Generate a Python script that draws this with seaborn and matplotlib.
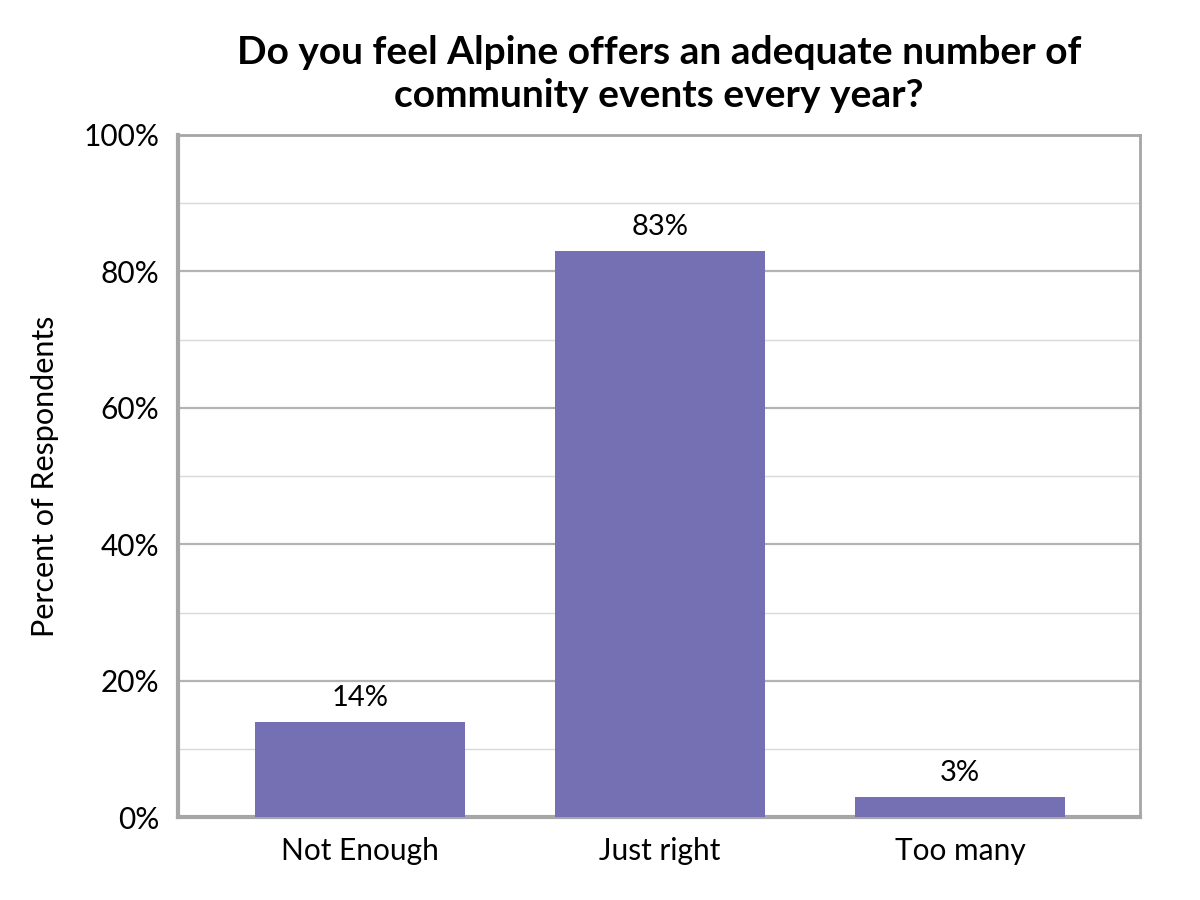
import matplotlib
matplotlib.use("Agg")
import matplotlib.pyplot as plt
import seaborn as sns
import pandas as pd
from matplotlib.ticker import MultipleLocator, PercentFormatter

categories = ["Not Enough", "Just right", "Too many"]
percents = [14, 83, 3]
title = "Do you feel Alpine offers an adequate number of\ncommunity events every year?"
ylabel = "Percent of Respondents"

BAR_COLOR = "#7570b3"
SPINE_COLOR = "#a6a6a6"

sns.set_style("white")
plt.rcParams["font.family"] = ["Lato", "DejaVu Sans"]
plt.rcParams["text.color"] = "black"
plt.rcParams["xtick.color"] = "black"
plt.rcParams["ytick.color"] = "black"
plt.rcParams["axes.labelcolor"] = "black"

df = pd.DataFrame({"answer": categories, "pct": percents})

fig = plt.figure(figsize=(12, 9), dpi=100)
ax = fig.add_axes([0.148, 0.092, 0.802, 0.758])
sns.barplot(data=df, x="answer", y="pct", color=BAR_COLOR, width=0.7,
            saturation=1, linewidth=0, ax=ax, zorder=3)

ax.set_xlim(-0.607, 2.6)
ax.set_ylim(0, 100)
ax.yaxis.set_major_locator(MultipleLocator(20))
ax.yaxis.set_minor_locator(MultipleLocator(10))
ax.yaxis.set_major_formatter(PercentFormatter(decimals=0))
ax.grid(axis="y", which="major", color="#b3b3b3", linewidth=1.6, zorder=0)
ax.grid(axis="y", which="minor", color="#d9d9d9", linewidth=1.0, zorder=0)
ax.set_axisbelow(True)

for side in ["left", "bottom", "top", "right"]:
    ax.spines[side].set_color(SPINE_COLOR)
ax.spines["left"].set_linewidth(3)
ax.spines["bottom"].set_linewidth(3)
ax.spines["top"].set_linewidth(2)
ax.spines["right"].set_linewidth(2)

ax.tick_params(axis="both", which="both", length=0, labelsize=21.5)
ax.tick_params(axis="y", pad=13)
ax.tick_params(axis="x", pad=14)
ax.set_xlabel("")
ax.set_ylabel(ylabel, fontsize=22, labelpad=18)

ax.bar_label(ax.containers[0], labels=[f"{v}%" for v in percents],
             fontsize=21, padding=8)

ax.set_title(title, fontsize=28, fontweight="bold", pad=20, linespacing=1.3)

fig.savefig("out.png", dpi=100)
